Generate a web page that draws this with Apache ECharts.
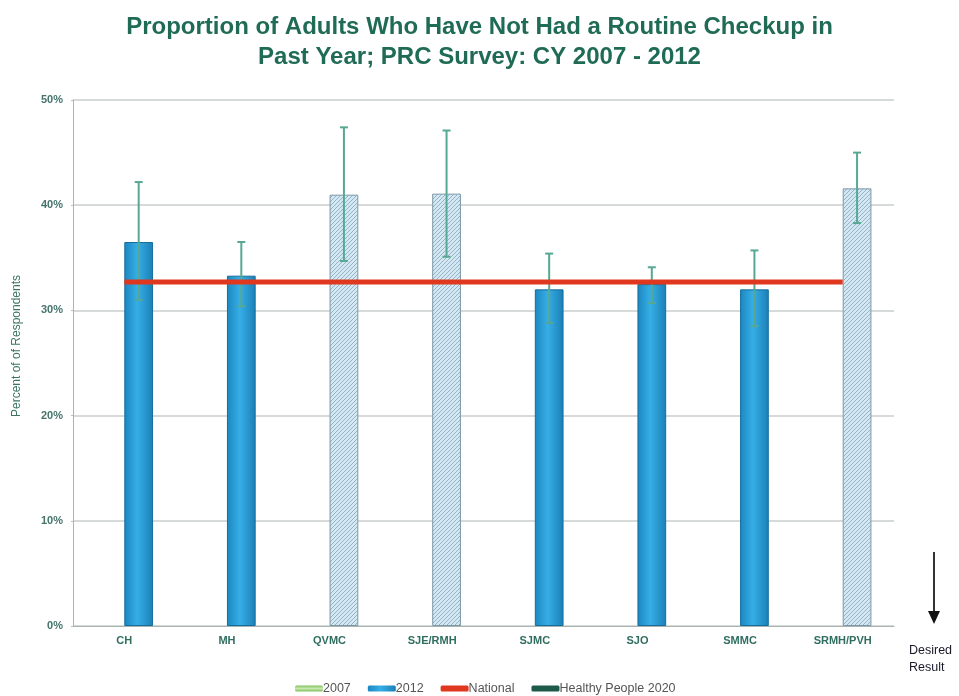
<!DOCTYPE html>
<html>
<head>
<meta charset="utf-8">
<script src="https://cdn.jsdelivr.net/npm/echarts@6/dist/echarts.min.js"></script>
<style>
html,body{margin:0;padding:0;background:#fff;}
#chart{width:959px;height:696px;}
</style>
</head>
<body>
<div id="chart"></div>
<script>
// ---- data ----
const categories = ['CH','MH','QVMC','SJE/RMH','SJMC','SJO','SMMC','SRMH/PVH'];
const values2007 = [null,null,null,null,null,null,null,null];
const values2012 = [36.5,33.3,41.0,41.1,32.0,32.5,32.0,41.6];
const errorLow  = [31.0,30.4,34.7,35.1,28.8,30.7,28.5,38.3];
const errorHigh = [42.2,36.5,47.4,47.1,35.4,34.1,35.7,45.0];
const nationalValue = 32.7;
const nationalValues = categories.map(() => nationalValue);
const healthyPeople2020 = [];
const hatchedCategories = ['QVMC','SJE/RMH','SRMH/PVH'];

const FONT = 'Liberation Sans, Arial, sans-serif';

// ---- hatch pattern ----
const pc = document.createElement('canvas');
pc.width = 4; pc.height = 4;
const ctx = pc.getContext('2d');
ctx.fillStyle = '#d4e8f4';
ctx.fillRect(0,0,4,4);
ctx.strokeStyle = '#96b3c5';
ctx.lineWidth = 1;
ctx.beginPath();
ctx.moveTo(-1,5); ctx.lineTo(5,-1);
ctx.moveTo(3,5); ctx.lineTo(5,3);
ctx.moveTo(-1,1); ctx.lineTo(1,-1);
ctx.stroke();

const blueGrad = new echarts.graphic.LinearGradient(0,0,1,0,[
  {offset:0,color:'#1c86c0'},
  {offset:0.45,color:'#36aee6'},
  {offset:1,color:'#1b7fb6'}
]);
const greenGrad = new echarts.graphic.LinearGradient(0,0,0,1,[
  {offset:0,color:'#7fc05a'},
  {offset:0.5,color:'#c8e8b0'},
  {offset:1,color:'#7fc05a'}
]);

const barFrac = 0.28;
const bars2012 = values2012.map((v,i) => {
  if (hatchedCategories.includes(categories[i])) {
    return {value: v, itemStyle: {color: {image: pc, repeat: 'repeat'}, borderColor: '#7d97a6', borderWidth: 1}};
  }
  return v;
});
const errData = categories.map((c,i) => [i, errorLow[i], errorHigh[i]]);

const chart = echarts.init(document.getElementById('chart'));
chart.setOption({
  animation: false,
  backgroundColor: '#ffffff',
  title: {
    text: 'Proportion of Adults Who Have Not Had a Routine Checkup in\nPast Year; PRC Survey: CY 2007 - 2012',
    left: 'center', top: 7,
    textStyle: {fontFamily: FONT, fontSize: 24, fontWeight: 'bold', color: '#1f6b55', lineHeight: 30}
  },
  legend: {
    data: ['2007','2012','National','Healthy People 2020'],
    left: 290, top: 677,
    itemWidth: 28, itemHeight: 6, itemGap: 17,
    icon: 'roundRect',
    itemStyle: {borderWidth: 0},
    textStyle: {fontFamily: FONT, fontSize: 12.5, color: '#555', padding: [0,0,0,-5]}
  },
  grid: {left: 73, right: 65, top: 100, bottom: 70, containLabel: false},
  xAxis: {
    type: 'category', data: categories,
    axisLine: {lineStyle: {color: '#a8b4b0', width: 1}},
    axisTick: {show: false},
    axisLabel: {fontFamily: FONT, fontSize: 11, fontWeight: 'bold', color: '#2f6e60', margin: 9}
  },
  yAxis: {
    type: 'value', min: 0, max: 50, interval: 10,
    axisLine: {show: true, lineStyle: {color: '#a8b4b0'}},
    axisTick: {show: true, length: 2, lineStyle: {color: '#b8c0bd'}},
    axisLabel: {formatter: '{value}%', fontFamily: FONT, fontSize: 11, fontWeight: 'bold', color: '#44746a', margin: 10},
    splitLine: {lineStyle: {color: '#c9cfcc', width: 1.5}}
  },
  series: [
    {name: '2007', type: 'bar', data: values2007, barWidth: (barFrac*100)+'%', barGap: '0%',
     itemStyle: {color: greenGrad}},
    {name: '2012', type: 'bar', data: bars2012, barWidth: (barFrac*100)+'%', barGap: '0%',
     itemStyle: {color: blueGrad, borderColor: '#166d9c', borderWidth: 1}},
    {name: 'errors', type: 'custom', data: errData, z: 4,
     encode: {x: 0, y: [1,2]},
     renderItem: function(params, api){
       const idx = api.value(0);
       const band = api.size([1,0])[0];
       const x = api.coord([idx, 0])[0] + band*barFrac/2;
       const yl = api.coord([idx, api.value(1)])[1];
       const yh = api.coord([idx, api.value(2)])[1];
       const st = {stroke: '#57a893', lineWidth: 2};
       return {type: 'group', children: [
         {type: 'line', shape: {x1: x, y1: yl, x2: x, y2: yh}, style: st},
         {type: 'line', shape: {x1: x-4, y1: yl, x2: x+4, y2: yl}, style: st},
         {type: 'line', shape: {x1: x-4, y1: yh, x2: x+4, y2: yh}, style: st}
       ]};
     }},
    {name: 'National', type: 'line', data: nationalValues, symbol: 'none', z: 5,
     lineStyle: {color: '#e0371f', width: 5}, itemStyle: {color: '#e0371f'}},
    {name: 'Healthy People 2020', type: 'line', data: healthyPeople2020, symbol: 'none',
     lineStyle: {color: '#1d5a49', width: 5}, itemStyle: {color: '#1d5a49'}}
  ],
  graphic: [
    {type: 'text', x: 17, y: 346, rotation: Math.PI/2,
     style: {text: 'Percent of of Respondents', fontFamily: FONT, fontSize: 12, fill: '#3c7466', align: 'center', verticalAlign: 'middle'}},
    {type: 'line', shape: {x1: 934, y1: 552, x2: 934, y2: 612}, style: {stroke: '#333', lineWidth: 2}},
    {type: 'polygon', shape: {points: [[928,611],[940,611],[934,624]]}, style: {fill: '#111'}},
    {type: 'text', left: 909, top: 642, style: {text: 'Desired\nResult', fontFamily: FONT, fontSize: 12.5, fill: '#1a1a2a', align: 'center', lineHeight: 17}}
  ]
});
</script>
</body>
</html>
